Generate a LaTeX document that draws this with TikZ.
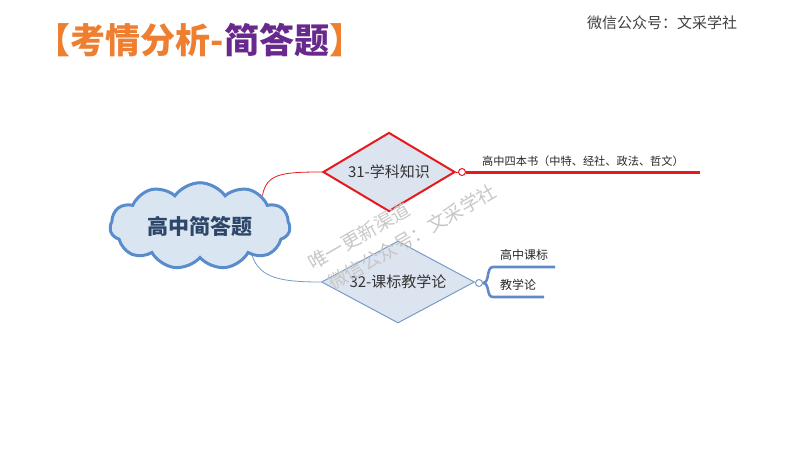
\documentclass[tikz,border=0pt]{standalone}
\usepackage{fontspec}
\setmainfont{Noto Sans CJK SC}
\usepackage{tikz}
\usetikzlibrary{shapes,positioning}
\definecolor{titleorange}{RGB}{238,126,48}
\definecolor{titlepurple}{RGB}{104,40,140}
\definecolor{cloudblue}{RGB}{88,140,205}
\definecolor{cloudfill}{RGB}{218,229,242}
\definecolor{hubtext}{RGB}{45,70,105}
\definecolor{keyfill}{RGB}{220,228,240}
\definecolor{mapred}{RGB}{230,25,30}
\definecolor{mapblue}{RGB}{95,138,198}
\definecolor{edgeblue}{RGB}{120,155,200}
\tikzstyle{heading}=[inner sep=0pt,font=\fontsize{35}{35}\selectfont\bfseries]
\tikzstyle{account}=[inner sep=0pt,text=black!75,font=\fontsize{15}{15}\selectfont]
\tikzstyle{hub}=[cloud,cloud puffs=11,cloud puff arc=110,aspect=2.2,draw=cloudblue,line width=3pt,fill=cloudfill,minimum width=180pt,minimum height=84pt,inner sep=0pt,text=hubtext,font=\fontsize{21}{21}\selectfont\bfseries]
\tikzstyle{keyred}=[diamond,aspect=1.67,draw=mapred,line width=2pt,fill=keyfill,minimum width=132pt,minimum height=79pt,inner sep=0pt,text=black!80,font=\fontsize{15}{15}\selectfont]
\tikzstyle{keyblue}=[diamond,aspect=1.87,draw=edgeblue,line width=1pt,fill=keyfill,minimum width=153pt,minimum height=82pt,inner sep=0pt,text=black!80,font=\fontsize{15}{15}\selectfont]
\tikzstyle{knobred}=[circle,draw=mapred,line width=1pt,fill=white,minimum size=7pt,inner sep=0pt]
\tikzstyle{knobblue}=[circle,draw=edgeblue,line width=1pt,fill=white,minimum size=7pt,inner sep=0pt]
\tikzstyle{linkred}=[draw=mapred,line width=0.8pt]
\tikzstyle{linkblue}=[draw=edgeblue,line width=0.8pt]
\tikzstyle{branchred}=[draw=mapred,line width=3pt]
\tikzstyle{branchblue}=[draw=mapblue,line width=2.6pt]
\tikzstyle{leaf}=[inner sep=0pt,anchor=west,text=black!85]
\tikzstyle{stamp}=[inner sep=0pt,rotate=30,text=black!22,font=\fontsize{19}{19}\selectfont]

\begin{document}
\begin{tikzpicture}[x=1pt,y=-1pt]
\useasboundingbox (0,0) rectangle (800,450);

% First we draw the headings
\node[heading] (title) at (200,40) {\textcolor{titleorange}{【考情分析-}\textcolor{titlepurple}{简答题}\textcolor{titleorange}{】}};
\node[account] (account) at (662,23) {微信公众号：文采学社};

% Then the cloud, the diamonds and the knobs
\node[hub] (hub) at (200,226) {高中简答题};
\node[keyred] (k31) at (389,172) {31-学科知识};
\node[keyblue] (k32) at (398,282) {32-课标教学论};
\node[knobred] (d31) at (462,172) {};
\node[knobblue] (d32) at (479,283) {};

% Free ends of the branches
\foreach \x / \y / \name in {700/172/e31,493/267/m1,555/267/e1,493/297/m2,544/297/e2}
\coordinate (\name) at (\x,\y);

% Connect the cloud with the diamonds
\path[linkred] (hub.26) .. controls +(4,-22) and +(-40,0) .. (k31.west);
\path[linkblue] (hub.-30) .. controls +(8,22) and +(-40,0) .. (k32.west);
\path[linkred] (k31.east) -- (d31);
\path[linkblue] (k32.east) -- (d32);

% Branches and their labels
\path[branchred] (d31.east) -- (e31);
\foreach \mid / \dest in {m1/e1,m2/e2}
\path[branchblue] (d32.east) .. controls +(7,0) and +(-7,0) .. (\mid) -- (\dest);

\node[leaf,font=\fontsize{11.2}{11.2}\selectfont] (t31) at (482,161) {高中四本书（中特、经社、政法、哲文）};
\node[leaf,font=\fontsize{12}{12}\selectfont] (t1) at (500,255) {高中课标};
\node[leaf,font=\fontsize{12}{12}\selectfont] (t2) at (500,285) {教学论};

% Watermark
\node[stamp] (w1) at (359,236) {唯一更新渠道};
\node[stamp] (w2) at (412,237) {微信公众号：文采学社};

\end{tikzpicture}
\end{document}
